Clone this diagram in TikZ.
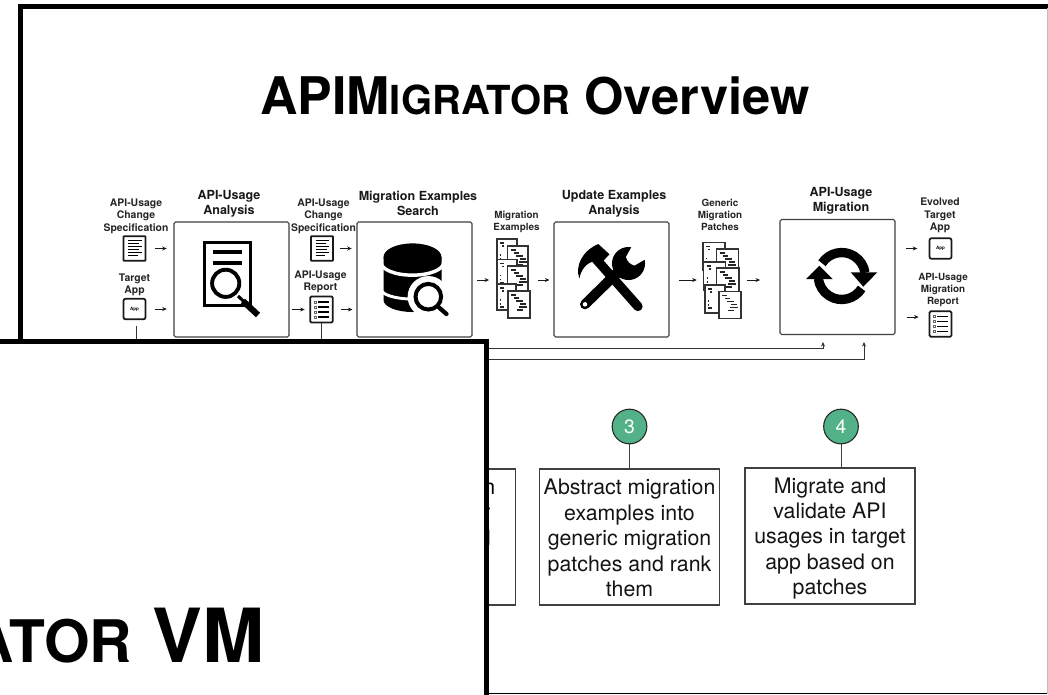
\documentclass[tikz,border=0pt]{standalone}
\usepackage{fontspec}
\setmainfont{TeX Gyre Heros}
\usetikzlibrary{arrows.meta,calc}
\definecolor{boxline}{HTML}{404040}
\definecolor{badgegreen}{HTML}{52B186}
\tikzset{
  stepbox/.style={draw=boxline,line width=0.85pt,rounded corners=1.2pt,fill=white,minimum width=86.25pt,minimum height=86.25pt,inner sep=0pt},
  headlabel/.style={font=\fontsize{9.4}{11.2}\selectfont\bfseries,align=center,inner sep=0pt,text=black!90},
  smalllabel/.style={font=\fontsize{7.8}{9.4}\selectfont\bfseries,align=center,inner sep=0pt,text=black!85},
  iconbox/.style={draw=black!90,line width=1.3pt,rounded corners=0.9pt,fill=white,inner sep=0pt},
  arr/.style={draw=black!90,line width=0.75pt,-{Stealth[length=3.4pt,width=3pt]}},
  link/.style={draw=boxline,line width=0.7pt},
  bus/.style={draw=black!80,line width=0.7pt,-{Stealth[length=3.4pt,width=3pt]}},
  badge/.style={circle,draw=black!85,line width=0.8pt,fill=badgegreen,text=white,minimum size=26pt,inner sep=0pt,font=\fontsize{14.5}{16}\selectfont},
  notebox/.style={draw=boxline,line width=0.8pt,fill=white,inner sep=0pt},
  notetext/.style={inner sep=0pt,align=center,font=\fontsize{16}{19.1}\selectfont,text=black!92},
  frameline/.style={draw=black,line width=3.75pt},
  pageback/.style={draw=black!80,line width=1pt,fill=white},
  pagefront/.style={draw=black!80,line width=1.4pt,fill=white},
  codebar/.style={draw=black!85,line width=0.95pt},
  pics/doclines/.style={code={
    \foreach \ya/\xb in {-8/7,-5/4,-2/7,1/4.5,4/7,7/3}{\draw[black,line width=0.85pt] (-6.5,\ya) -- (\xb,\ya);}
  }},
  pics/listlines/.style={code={
    \foreach \ya in {-7.5,-2.5,2.5,7.5}{
      \draw[black!60,line width=0.35pt] (-7,\ya-1) rectangle (-5,\ya+1);
      \draw[black,line width=0.85pt] (-3.5,\ya) -- (7,\ya);}
  }}
}
\newcommand{\backpage}[4]{\draw[pageback] (#1,#2) rectangle ++(#3,#4);
  \foreach \ab/\bb/\cb in {3/4/4,5/7/2,3/16/1,3/20/1,3/23/4}{\draw[codebar] (#1+\ab,#2+\bb) -- ++(\cb,0);}}
\newcommand{\frontpage}[4]{\draw[pagefront] (#1,#2) rectangle ++(#3,#4);
  \foreach \ab/\bb/\cb in {3/4/5,6/7/5,8/10/7,12/13/6,11/16/8,9/19/6}{\draw[codebar] (#1+\ab,#2+\bb) -- ++(\cb,0);}}
\begin{document}
\begin{tikzpicture}[x=0.75pt,y=-0.75pt]
\useasboundingbox (0,0) rectangle (1048,694);
\clip (0,0) rectangle (1048,694);
\fill[white] (0,0) rectangle (1048,694);
% back window frame
\draw[frameline] (20,700) -- (20,6) -- (1052,6);
\draw[black,line width=1.1pt] (20,693.6) -- (1052,693.6);
\draw[black!25,line width=0.7pt] (1047.5,8) -- (1047.5,694);
% title
\node[anchor=base west,inner sep=0pt] (title) at (260,114.5) {\bfseries\fontsize{38.9}{44}\selectfont APIM\fontsize{30}{44}\selectfont IGRATOR\fontsize{38}{44}\selectfont{} Overview};
% main boxes
\node[stepbox] (box1) at (231.5,279.5) {};
\node[stepbox] (box2) at (414.5,279.5) {};
\node[stepbox] (box3) at (611.5,279.5) {};
\node[stepbox] (box4) at (837.5,277) {};
\node[headlabel] (h1) at (229,203.5) {API-Usage\\Analysis};
\node[headlabel] (h2) at (418,203.5) {Migration Examples\\Search};
\node[headlabel] (h3) at (614,203.5) {Update Examples\\Analysis};
\node[headlabel] (h4) at (841,200.5) {API-Usage\\Migration};
% side labels
\node[smalllabel] (l1) at (136,216) {API-Usage\\Change\\Specification};
\node[smalllabel] (l2) at (134.5,285) {Target\\App};
\node[smalllabel] (l3) at (323.5,216) {API-Usage\\Change\\Specification};
\node[smalllabel] (l4) at (320.5,282) {API-Usage\\Report};
\node[smalllabel,font=\fontsize{7.4}{9}\selectfont\bfseries] (l5) at (516.5,221.5) {Migration\\Examples};
\node[smalllabel,font=\fontsize{7.4}{9}\selectfont\bfseries] (l6) at (720,215) {Generic\\Migration\\Patches};
\node[smalllabel] (l7) at (940,215.5) {Evolved\\Target\\App};
\node[smalllabel,font=\fontsize{7.4}{9}\selectfont\bfseries] (l8) at (943,289.5) {API-Usage\\Migration\\Report};
% small icons
\node[iconbox,minimum width=16.5pt,minimum height=18.5pt,rounded corners=0.5pt] (d1) at (134.5,248.5) {};
\pic at (d1) {doclines};
\node[iconbox,minimum width=16.5pt,minimum height=15.5pt,rounded corners=1.6pt,font=\fontsize{3.4}{4}\selectfont\bfseries] (a1) at (134.5,309) {App};
\node[iconbox,minimum width=16.5pt,minimum height=18.5pt,rounded corners=0.5pt] (d2) at (322,248.5) {};
\pic at (d2) {doclines};
\node[iconbox,minimum width=17pt,minimum height=19.5pt] (r1) at (321.5,309.5) {};
\pic at (r1) {listlines};
\node[iconbox,minimum width=16.5pt,minimum height=15.5pt,rounded corners=1.6pt,font=\fontsize{3.4}{4}\selectfont\bfseries] (a2) at (940.5,248.5) {App};
\node[iconbox,minimum width=16.5pt,minimum height=19pt] (r2) at (940.5,324) {};
\pic at (r2) {listlines};
% file stacks
\node[inner sep=0pt,minimum width=25.5pt,minimum height=59pt] (s1) at (513,280) {};
\node[inner sep=0pt,minimum width=28.5pt,minimum height=57pt] (s2) at (722,280) {};
\backpage{497}{239}{20}{26}
\frontpage{507.5}{246}{20.5}{24}
\backpage{497}{259.5}{20}{26}
\frontpage{507.5}{266}{20.5}{26}
\backpage{497}{284}{19}{26}
\frontpage{508}{291}{22}{27}
\backpage{703}{242.5}{22}{28}
\frontpage{716.5}{249}{22}{24}
\backpage{703.5}{262}{22}{28}
\frontpage{716.5}{268}{22.5}{26}
\backpage{705}{285}{20}{28}
\frontpage{719}{291.5}{22}{27}
% flow arrows
\draw[arr,shorten <=6.5pt,shorten >=5pt] (d1.east) -- (d1.east -| box1.west);
\draw[arr,shorten <=6.5pt,shorten >=5pt] (a1.east) -- (a1.east -| box1.west);
\draw[arr,shorten <=2pt,shorten >=3.5pt] (r1.west -| box1.east) -- (r1.west);
\draw[arr,shorten <=4.5pt,shorten >=3.5pt] (d2.east) -- (d2.east -| box2.west);
\draw[arr,shorten <=5.5pt,shorten >=3pt] (r1.east) -- (r1.east -| box2.west);
\draw[arr,shorten <=3.5pt,shorten >=5pt] (s1.west -| box2.east) -- (s1.west);
\draw[arr,shorten <=5.5pt,shorten >=3pt] (s1.east) -- (s1.east -| box3.west);
\draw[arr,shorten <=7pt,shorten >=4.5pt] (s2.west -| box3.east) -- (s2.west);
\draw[arr,shorten <=4.5pt,shorten >=14.5pt] (s2.east) -- (s2.east -| box4.west);
\draw[arr,shorten <=7.5pt,shorten >=8.5pt] (a2.west -| box4.east) -- (a2.west);
\draw[arr,shorten <=8.5pt,shorten >=7.5pt] (r2.west |- 0,317 -| box4.east) -- (r2.west |- 0,317);
% buses under the overlay
\coordinate (busA) at (823,342);
\coordinate (busB) at (864,342);
\coordinate (appdrop) at (136.5,326);
\draw[bus] (r1.south) -- (r1.south |- 0,348.5) -- (busA |- 0,348.5) -- (busA);
\draw[bus] (appdrop) -- (appdrop |- 0,359.5) -- (busB |- 0,359.5) -- (busB);
% icon: document with magnifier
\draw[black,line width=2.5pt] (204.5,242.5) rectangle (250.5,305.5);
\draw[black,line width=2.7pt] (213,252) -- (242,252);
\draw[black,line width=2.7pt] (213,263) -- (242,263);
\draw[black,line width=2.3pt] (238,296) -- (246,303.5);
\draw[black,line width=4.6pt] (243,301) -- (258,315);
\draw[black,line width=2.9pt,fill=white] (225.7,283.3) circle[radius=10.2pt];
% icon: database with magnifier
\fill[black] (383.5,257) -- (383.5,300) arc[start angle=180,end angle=360,x radius=21.75pt,y radius=9pt] -- (441.5,257) -- cycle;
\draw[white,line width=2.6pt] (381,262.5) arc[start angle=180,end angle=360,x radius=23.5pt,y radius=9.5pt];
\draw[white,line width=2.2pt] (381,289) arc[start angle=180,end angle=360,x radius=23.5pt,y radius=7.5pt];
\fill[black] (412.5,257) ellipse[x radius=21.75pt,y radius=10.2pt];
\fill[white] (428.3,296.7) circle[radius=15.5pt];
\draw[black,line width=3pt,fill=white] (428.3,296.7) circle[radius=9.6pt];
\draw[black,line width=3.2pt,line cap=round] (439,307.5) -- (446.5,314);
% icon: hammer and wrench
\draw[black,line width=7pt,line cap=round] (596,259) -- (638,306.5);
\fill[black] (598.3,244) -- (609.5,254.3) -- (598.3,266) -- (593.5,261.5) .. controls (586,263) and (581,270) .. (579.3,278.5) .. controls (575,266) and (582,251) .. (598.3,244) -- cycle;
\draw[black,line width=7.5pt,line cap=round] (585,304.3) -- (620,270);
\fill[black] (628.5,263.5) circle[radius=12.4pt];
\fill[white] (632,246) -- (626,257) .. controls (627.5,262) and (630,264) .. (634.5,265.5) -- (647.5,258) -- (652,244) -- cycle;
\fill[white] (585,304.3) circle[radius=1.7pt];
% icon: refresh arrows
\coordinate (syncC) at (841.7,276);
\draw[black,line width=7pt] (syncC) ++(147:17.6pt) arc[start angle=147,end angle=8,radius=17.6pt];
\fill[black] (850.7,272.3) -- (877.3,272.3) -- (863.3,286.7) -- cycle;
\draw[black,line width=7pt] (syncC) ++(-32:17.6pt) arc[start angle=-32,end angle=-174,radius=17.6pt];
\fill[black] (806,279) -- (832.7,279) -- (819.3,265.7) -- cycle;
% callouts
\node[notebox,minimum width=128pt,minimum height=102pt] (t2) at (430,537) {};
\node[anchor=base east,inner sep=0pt,font=\fontsize{16}{19}\selectfont] (frag1) at (495.5,494) {n};
\node[anchor=base east,inner sep=0pt,font=\fontsize{16}{19}\selectfont] (frag2) at (490.5,519) {r};
\node[anchor=base east,inner sep=0pt,font=\fontsize{16}{19}\selectfont] (frag3) at (491,545) {d};
\node[notebox,minimum width=135.5pt,minimum height=102pt] (t3) at (629.5,537) {};
\node[notetext] (tt3) at (629.5,538) {Abstract migration\\examples into\\generic migration\\patches and rank\\them};
\node[notebox,minimum width=127.5pt,minimum height=102pt] (t4) at (830,536) {};
\node[notetext] (tt4) at (830,538.5) {Migrate and\\validate API\\usages in target\\app based on\\patches};
\node[badge] (b3) at (629.5,426.5) {3};
\node[badge] (b4) at (841,426.5) {4};
\draw[link] (b3) -- (t3);
\draw[link] (b4.south) -- (b4.south |- t4.north);
% overlay window
\fill[white] (-5,341.5) rectangle (486.5,700);
\draw[frameline] (-5,341.5) -- (486.5,341.5) -- (486.5,700);
\node[anchor=base east,inner sep=0pt] (vmtitle) at (265,662) {\bfseries\fontsize{44}{50}\selectfont ATOR\fontsize{56}{60}\selectfont{} VM};
\end{tikzpicture}
\end{document}
